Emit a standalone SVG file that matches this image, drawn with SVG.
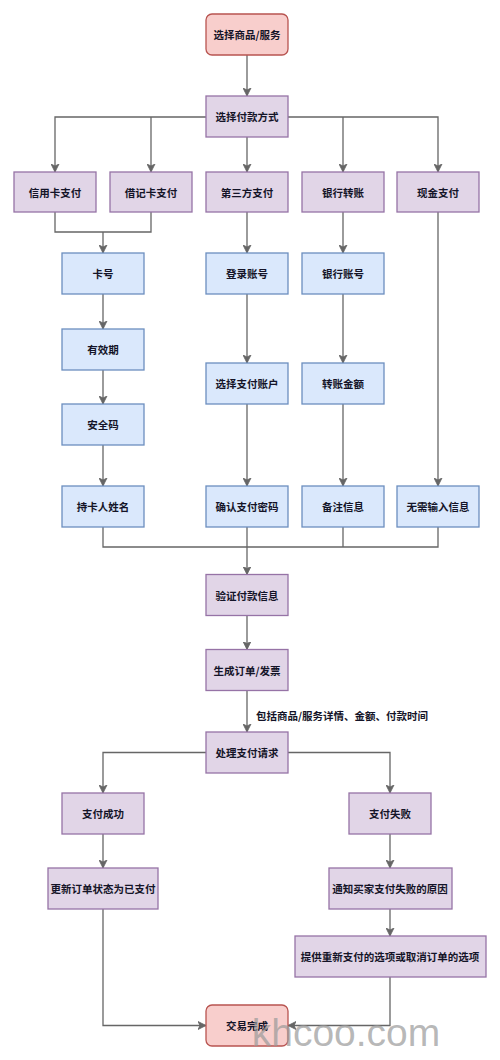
<svg xmlns="http://www.w3.org/2000/svg" width="500" height="1060" viewBox="0 0 500 1060">
<style>
.p rect{fill:#e1d5e7;stroke:#9673a6;stroke-width:1.3}
.b rect{fill:#dae8fc;stroke:#6c8ebf;stroke-width:1.3}
.r rect{fill:#f8cecc;stroke:#b85450;stroke-width:1.3}
text{font-family:"Noto Sans CJK SC","Noto Sans",sans-serif;font-size:10.5px;font-weight:bold;fill:#141428;text-anchor:middle;dominant-baseline:central}
#connectors path{fill:none;stroke:#666;stroke-width:1.3}
#connectors path.a{marker-end:url(#arr)}
</style>
<defs>
<marker id="arr" markerUnits="userSpaceOnUse" markerWidth="9" markerHeight="9" refX="8" refY="4.5" orient="auto">
<path d="M0,0.5 L8,4.5 L0,8.5 L2,4.5 Z" fill="#666" stroke="#666" stroke-width="0.8"/>
</marker>
</defs>
<rect width="500" height="1060" fill="#fff"/>
<g id="connectors">
<path class="a" d="M247,55 V96"/>
<path class="a" d="M206,117 H55 V172"/>
<path class="a" d="M151,117 V172"/>
<path class="a" d="M247,137 V172"/>
<path class="a" d="M288,117 H438 V172"/>
<path class="a" d="M343,117 V172"/>
<path d="M55,212 V232 H151 V212"/>
<path class="a" d="M103,232 V253"/>
<path class="a" d="M247,212 V253"/>
<path class="a" d="M343,212 V253"/>
<path class="a" d="M438,212 V486"/>
<path class="a" d="M103,294 V329"/>
<path class="a" d="M103,370 V404"/>
<path class="a" d="M103,445 V486"/>
<path class="a" d="M247,294 V363"/>
<path class="a" d="M247,404 V486"/>
<path class="a" d="M343,294 V363"/>
<path class="a" d="M343,404 V486"/>
<path d="M103,527 V547 H438 V527"/>
<path d="M343,527 V547"/>
<path class="a" d="M247,527 V574.5"/>
<path class="a" d="M247,615.5 V649.5"/>
<path class="a" d="M247,690.5 V732"/>
<path class="a" d="M206,752.5 H103 V793"/>
<path class="a" d="M288,752.5 H390 V793"/>
<path class="a" d="M103,834 V868"/>
<path class="a" d="M390,834 V868"/>
<path class="a" d="M390,909 V936"/>
<path class="a" d="M103,909 V1025.5 H206"/>
<path class="a" d="M390,977 V1025.5 H288"/>
<text x="342" y="715">包括商品/服务详情、金额、付款时间</text>
</g>
<g id="n_start" class="r"><rect x="206" y="14" width="82" height="41" rx="6"/><text x="247" y="34.5">选择商品/服务</text></g>
<g id="n_method" class="p"><rect x="206" y="96" width="82" height="41"/><text x="247" y="116.5">选择付款方式</text></g>
<g id="n_credit" class="p"><rect x="14" y="172" width="82" height="40"/><text x="55" y="192">信用卡支付</text></g>
<g id="n_debit" class="p"><rect x="110" y="172" width="82" height="40"/><text x="151" y="192">借记卡支付</text></g>
<g id="n_third" class="p"><rect x="206" y="172" width="82" height="40"/><text x="247" y="192">第三方支付</text></g>
<g id="n_bank" class="p"><rect x="302" y="172" width="82" height="40"/><text x="343" y="192">银行转账</text></g>
<g id="n_cash" class="p"><rect x="397" y="172" width="82" height="40"/><text x="438" y="192">现金支付</text></g>
<g id="n_cardno" class="b"><rect x="62" y="253" width="82" height="41"/><text x="103" y="273.5">卡号</text></g>
<g id="n_expiry" class="b"><rect x="62" y="329" width="82" height="41"/><text x="103" y="349.5">有效期</text></g>
<g id="n_cvv" class="b"><rect x="62" y="404" width="82" height="41"/><text x="103" y="424.5">安全码</text></g>
<g id="n_holder" class="b"><rect x="62" y="486" width="82" height="41"/><text x="103" y="506.5">持卡人姓名</text></g>
<g id="n_login" class="b"><rect x="206" y="253" width="82" height="41"/><text x="247" y="273.5">登录账号</text></g>
<g id="n_account" class="b"><rect x="206" y="363" width="82" height="41"/><text x="247" y="383.5">选择支付账户</text></g>
<g id="n_pwd" class="b"><rect x="206" y="486" width="82" height="41"/><text x="247" y="506.5">确认支付密码</text></g>
<g id="n_bankno" class="b"><rect x="302" y="253" width="82" height="41"/><text x="343" y="273.5">银行账号</text></g>
<g id="n_amount" class="b"><rect x="302" y="363" width="82" height="41"/><text x="343" y="383.5">转账金额</text></g>
<g id="n_note" class="b"><rect x="302" y="486" width="82" height="41"/><text x="343" y="506.5">备注信息</text></g>
<g id="n_none" class="b"><rect x="397" y="486" width="82" height="41"/><text x="438" y="506.5">无需输入信息</text></g>
<g id="n_verify" class="p"><rect x="206" y="574.5" width="82" height="41"/><text x="247" y="595">验证付款信息</text></g>
<g id="n_order" class="p"><rect x="206" y="649.5" width="82" height="41"/><text x="247" y="670">生成订单/发票</text></g>
<g id="n_process" class="p"><rect x="206" y="732" width="82" height="41"/><text x="247" y="752.5">处理支付请求</text></g>
<g id="n_ok" class="p"><rect x="62" y="793" width="82" height="41"/><text x="103" y="813.5">支付成功</text></g>
<g id="n_fail" class="p"><rect x="349" y="793" width="82" height="41"/><text x="390" y="813.5">支付失败</text></g>
<g id="n_update" class="p"><rect x="48" y="868" width="110" height="41"/><text x="103" y="888.5">更新订单状态为已支付</text></g>
<g id="n_notify" class="p"><rect x="329" y="868" width="123" height="41"/><text x="390" y="888.5">通知买家支付失败的原因</text></g>
<g id="n_retry" class="p"><rect x="295" y="936" width="191" height="41"/><text x="390" y="956.5">提供重新支付的选项或取消订单的选项</text></g>
<g id="n_done" class="r"><rect x="206" y="1005" width="82" height="41" rx="6"/><text x="247" y="1025.5">交易完成</text></g>
<text x="346" y="1032" style="font-family:'Liberation Sans',Arial,sans-serif;font-size:39px;font-weight:normal;fill:#999;fill-opacity:0.7">khcoo.com</text>
</svg>
